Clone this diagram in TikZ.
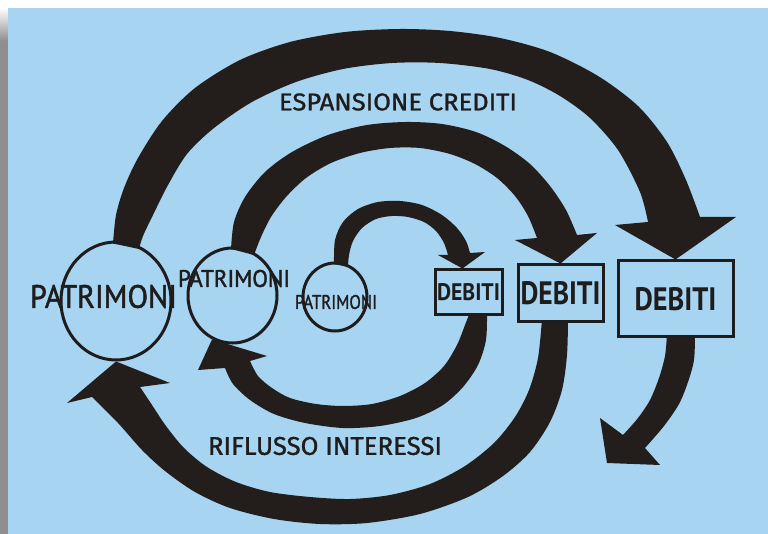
\documentclass[tikz,border=0pt]{standalone}
\usepackage{fontspec}
\usepackage{graphicx}
\usetikzlibrary{shapes.geometric,calc}
\newfontfamily\handfont{PT Sans}
\newfontfamily\handmed[FakeBold=1.6]{PT Sans}
\newfontfamily\capfont[FakeBold=1.1]{Fira Sans}
\definecolor{bgblue}{RGB}{167,212,241}
\definecolor{bandc}{RGB}{35,30,28}
\definecolor{inkc}{RGB}{30,28,28}
\definecolor{stripc}{RGB}{143,143,143}
\newcommand{\fitt}[3]{\resizebox{#1}{#2}{#3}}
\pgfdeclarelayer{back}
\pgfsetlayers{back,main}
\tikzset{
  band/.style={fill=bandc},
  pat/.style={ellipse, draw=inkc, line width=3pt, inner sep=0pt},
  debbox/.style={rectangle, draw=inkc, line width=3pt, fill=bgblue, inner sep=0pt, text=inkc},
  lbl/.style={inner sep=0pt, text=inkc},
}
\begin{document}
\begin{tikzpicture}[x=1pt,y=-1pt]
\useasboundingbox (0,0) rectangle (768,534);

% nodes
\node[pat, minimum width=110pt, minimum height=118pt] (p1) at (116,301) {};
\node[pat, minimum width=89pt, minimum height=95pt] (p2) at (232.5,295.5) {};
\node[pat, minimum width=64pt, minimum height=68pt] (p3) at (335,297) {};
\node[debbox, minimum width=67pt, minimum height=45pt] (d1) at (468.5,292.5) {\fitt{63pt}{17pt}{\handfont\bfseries DEBITI}};
\node[debbox, minimum width=85pt, minimum height=57pt] (d2) at (560.5,293.5) {\fitt{80pt}{23pt}{\handfont\bfseries DEBITI}};
\node[debbox, minimum width=115pt, minimum height=76pt] (d3) at (675.5,299) {\fitt{82pt}{23pt}{\handfont\bfseries DEBITI}};

\node[lbl] (t1) at (103.5,296.5) {\fitt{147pt}{23pt}{\handmed PATRIMONI}};
\node[lbl] (t2) at (234,278.5) {\fitt{112pt}{17pt}{\handmed PATRIMONI}};
\node[lbl] (t3) at (336,302) {\fitt{82pt}{14pt}{\handmed PATRIMONI}};
\node[lbl] (tE) at (398,102) {\fitt{238pt}{17pt}{\capfont ESPANSIONE CREDITI}};
\node[lbl] (tR) at (325,446) {\fitt{234pt}{18pt}{\capfont RIFLUSSO INTERESSI}};

\begin{pgfonlayer}{back}
\fill[white] (0,0) rectangle (768,534);
\fill[stripc] (0,40) rectangle (8,534);
\shade[top color=white,bottom color=stripc] (0,8) rectangle (8,40.5);
\fill[bgblue] (8,8) rectangle (768,534);

% band 1: outer top (espansione crediti)
\fill[band] plot[smooth] coordinates {(113,243.5) (116,215) (124,188) (138,158) (162,121) (195,88) (240,60) (290,42) (345,32) (400,29) (450,31) (500,38) (550,52) (598,76) (638,106) (667,142) (686,180) (700,217)}
 -- (736,217) -- (d3.north) -- (615,225) -- (648,222)
 -- plot[smooth] coordinates {(648,222) (640,192) (618,150) (590,118) (560,96) (528,80) (490,69) (440,63) (392,63) (343,69) (296,82) (252,102) (214,128) (187,154) (168,185) (153,215) (143,236) (139,249)} -- cycle;

% band 2: middle top
\fill[band] plot[smooth] coordinates {(231,249) (234,222) (245,197) (265,172) (292,152) (328,135) (367,125) (406,122) (442,124) (476,132) (505,146) (530,164) (550,186) (566,210) (577,235)}
 -- (597,233) -- (d2.north) -- (515,240) -- (537,238)
 -- plot[smooth] coordinates {(537,238) (528,216) (515,196) (497,178) (475,164) (450,154) (420,148) (390,148) (360,153) (331,163) (306,178) (286,197) (271,217) (261,237) (254,255)} -- cycle;

% band 3: inner top
\fill[band] plot[smooth] coordinates {(334,264) (335,240) (343,222) (358,209) (378,202) (400,201) (422,205) (442,215) (457,228) (466,241) (470,253)}
 -- (485,252) -- ($(d1.north)+(-6,0)$) -- (438,255) -- (448,255)
 -- plot[smooth] coordinates {(448,255) (444,243) (436,231) (424,222) (408,217) (392,216) (376,219) (362,228) (353,241) (349,255) (348,267)} -- cycle;

% band 4: inner bottom (riflusso)
\fill[band] plot[smooth] coordinates {(487,312) (486,340) (478,365) (463,387) (443,405) (416,418) (380,426) (343,428) (305,423) (274,414) (250,400) (233,384) (225,368)}
 -- (198,370) -- (p2.245) -- (267,356) -- (250,361)
 -- plot[smooth] coordinates {(250,361) (258,376) (272,388) (290,398) (316,404) (343,406) (372,404) (400,396) (425,383) (444,366) (457,345) (465,325) (470,312)} -- cycle;

% band 5: outer bottom
\fill[band] plot[smooth] coordinates {(568,319) (567,355) (562,390) (550,422) (530,452) (503,476) (468,497) (420,514) (367,523) (320,524) (274,519) (230,508) (195,492) (165,471) (142,450) (118,423) (92,397)}
 -- (67,403) -- (p1.south) -- (170,383) -- (140,387)
 -- plot[smooth] coordinates {(140,387) (152,405) (166,426) (184,448) (207,467) (236,482) (270,492) (310,497) (350,499) (390,495) (430,484) (465,466) (494,443) (515,417) (529,390) (538,358) (542,319)} -- cycle;

% band 6: right
\coordinate (tip6) at (607,463);
\fill[band] plot[smooth] coordinates {(695,334) (694,360) (688,382) (679,404) (664,426) (645,448)}
 -- (660,465) -- (tip6) -- (600,418) -- (623,435)
 -- plot[smooth] coordinates {(623,435) (638,418) (650,400) (659,378) (665,356) (667,334)} -- cycle;
\end{pgfonlayer}
\end{tikzpicture}
\end{document}
